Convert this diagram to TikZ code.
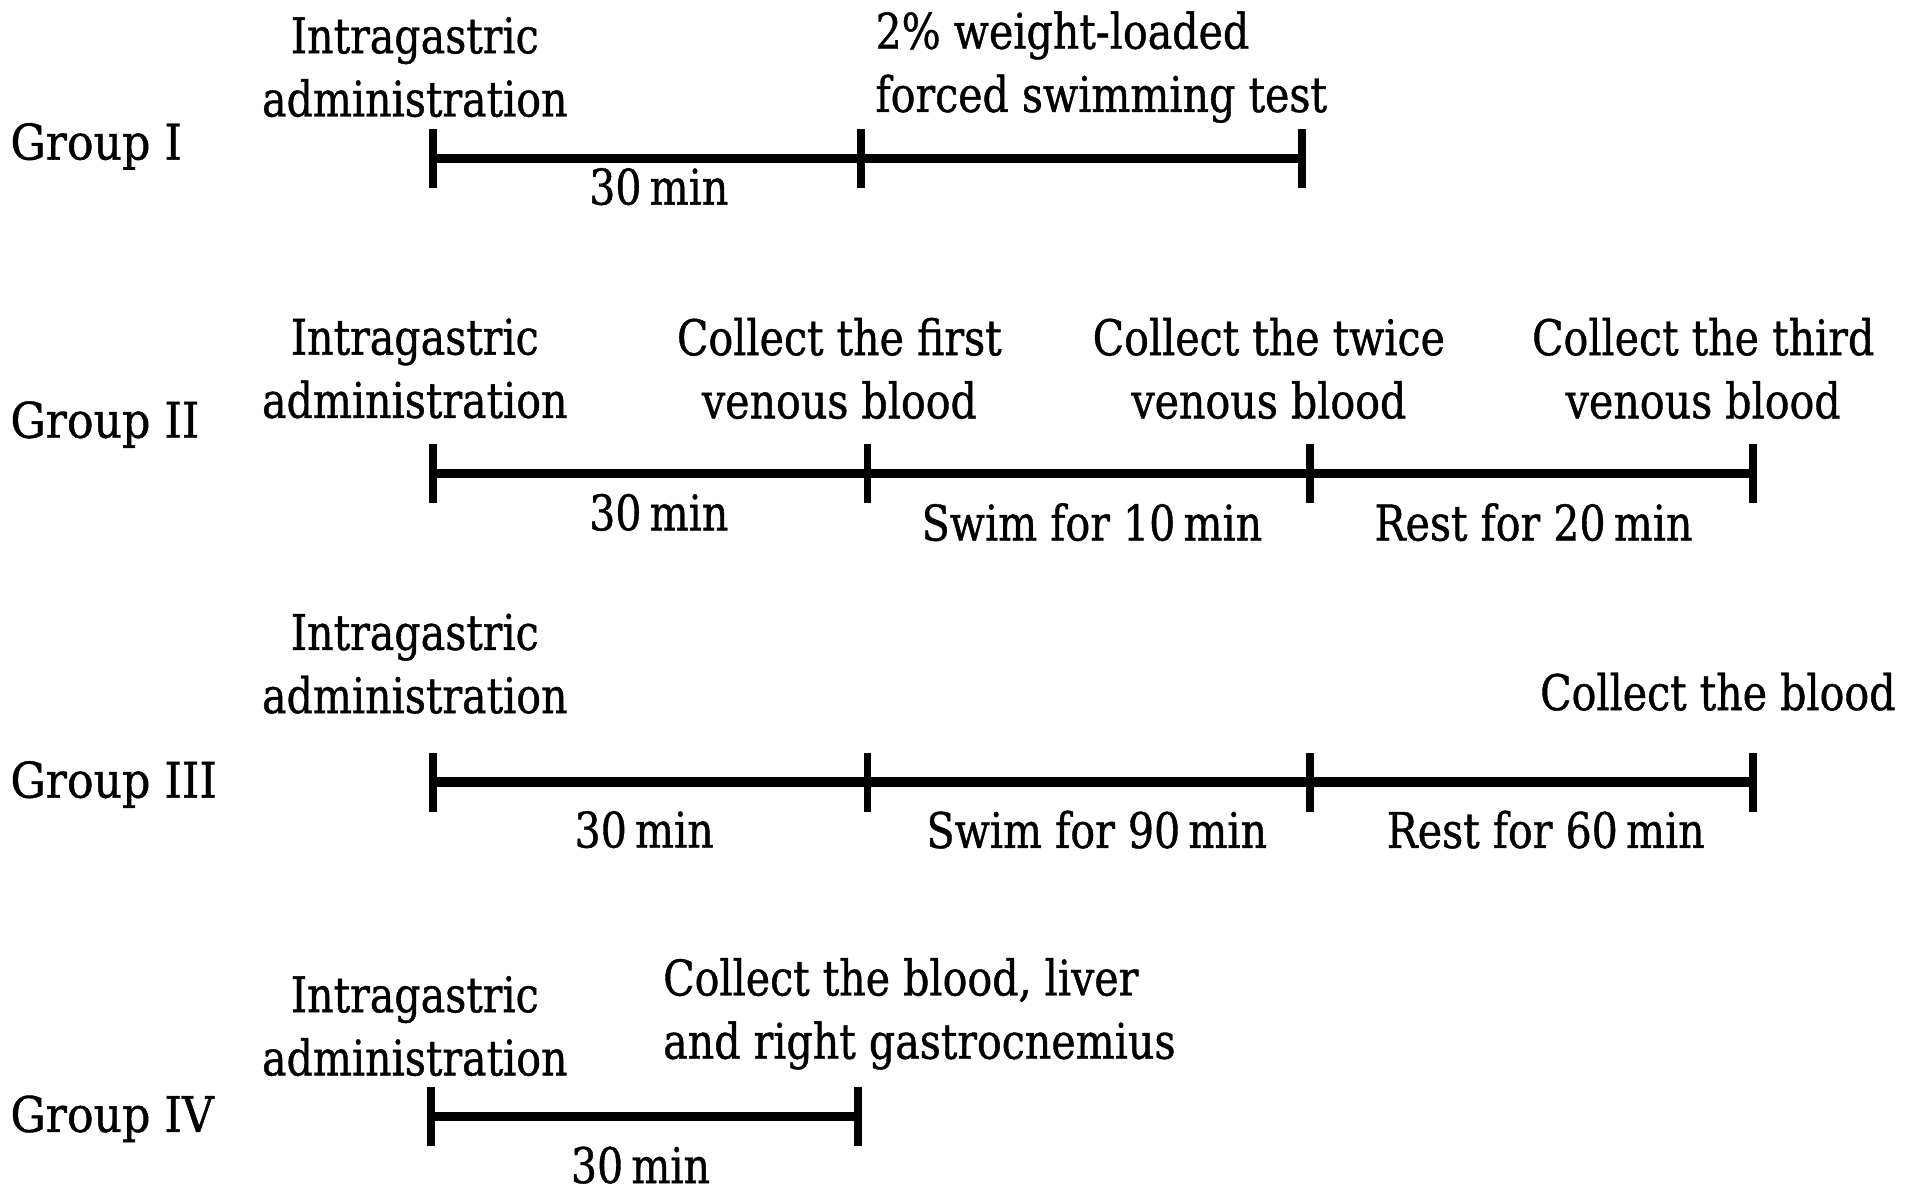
\documentclass[tikz,border=0pt]{standalone}
\usepackage{fontspec}
\setmainfont{DejaVu Serif Condensed}[FakeBold=0.8]
\newfontfamily\narrowfont{DejaVu Serif Condensed}[FakeStretch=0.93, FakeBold=0.8]
\usetikzlibrary{positioning}

\begin{document}
\begin{tikzpicture}[
    x=0.0122cm, y=-0.0122cm,
    txt/.style   = {font=\narrowfont\fontsize{14}{18}\selectfont, align=center, inner sep=0pt},
    grp/.style   = {font=\fontsize{14}{18}\selectfont, anchor=west, inner sep=0pt},
    tick/.style  = {rectangle, fill=black, inner sep=0pt,
                    minimum width=2.2pt, minimum height=0.59cm},
    bar/.style   = {line width=2.6pt, black}
]

\useasboundingbox (0,0) rectangle (1568,979);

%% -- Group I -----------------------------------------------
\node[grp] (g1) at (8,120) {Group I};
\node[tick] (t1a) at (355,130) {};
\node[tick] (t1b) at (706,130) {};
\node[tick] (t1c) at (1067,130) {};
\draw[bar] (t1a.center) -- (t1b.center) -- (t1c.center);

\node[txt] (g1_ig)   at (340,55) {Intragastric\\administration};
\node[txt, align=left, anchor=west] (g1_swim) at (717,55) {2\% weight-loaded\\forced swimming test};
\node[txt] (g1_30)   at (540,153) {30\,min};

%% -- Group II ----------------------------------------------
\node[grp] (g2) at (8,348) {Group II};
\node[tick] (t2a) at (355,388) {};
\node[tick] (t2b) at (711,388) {};
\node[tick] (t2c) at (1074,388) {};
\node[tick] (t2d) at (1437,388) {};
\draw[bar] (t2a.center) -- (t2b.center) -- (t2c.center) -- (t2d.center);

\node[txt] (g2_ig)   at (340,302) {Intragastric\\administration};
\node[txt] (g2_c1)   at (688,302) {Collect the first\\venous blood};
\node[txt] (g2_c2)   at (1040,302) {Collect the twice\\venous blood};
\node[txt] (g2_c3)   at (1396,302) {Collect the third\\venous blood};
\node[txt] (g2_30)   at (540,420) {30\,min};
\node[txt] (g2_swim) at (895,428) {Swim for 10\,min};
\node[txt] (g2_rest) at (1257,428) {Rest for 20\,min};

%% -- Group III ---------------------------------------------
\node[grp] (g3) at (8,643) {Group III};
\node[tick] (t3a) at (355,641) {};
\node[tick] (t3b) at (711,641) {};
\node[tick] (t3c) at (1074,641) {};
\node[tick] (t3d) at (1437,641) {};
\draw[bar] (t3a.center) -- (t3b.center) -- (t3c.center) -- (t3d.center);

\node[txt] (g3_ig)   at (340,544) {Intragastric\\administration};
\node[txt] (g3_cb)   at (1408,567) {Collect the blood};
\node[txt] (g3_30)   at (528,680) {30\,min};
\node[txt] (g3_swim) at (899,680) {Swim for 90\,min};
\node[txt] (g3_rest) at (1267,680) {Rest for 60\,min};

%% -- Group IV ----------------------------------------------
\node[grp] (g4) at (8,917) {Group IV};
\node[tick] (t4a) at (353,915) {};
\node[tick] (t4b) at (703,915) {};
\draw[bar] (t4a.center) -- (t4b.center);

\node[txt] (g4_ig)   at (340,841) {Intragastric\\administration};
\node[txt, align=left, anchor=west] (g4_cb) at (543,831) {Collect the blood, liver\\and right gastrocnemius};
\node[txt] (g4_30)   at (525,955) {30\,min};

\end{tikzpicture}
\end{document}
